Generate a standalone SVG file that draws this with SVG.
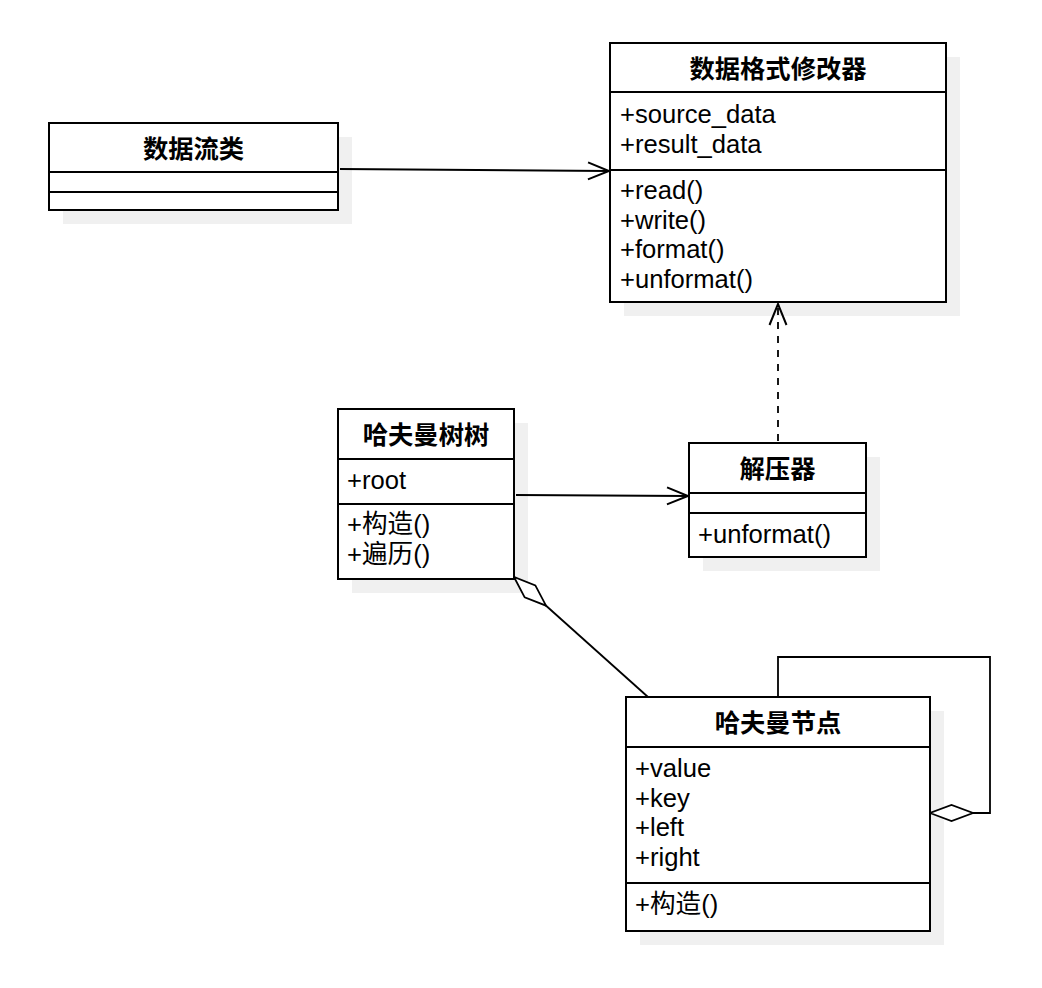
<svg xmlns="http://www.w3.org/2000/svg" width="1042" height="988" viewBox="0 0 1042 988">
<style>
.shadow{fill:#f0f0f0;stroke:none}
.box{fill:#ffffff;stroke:#000000;stroke-width:2}
.div{stroke:#000000;stroke-width:2;fill:none}
.title{font-family:"Liberation Sans","Noto Sans CJK SC",sans-serif;font-size:25.3px;font-weight:bold;fill:#000;text-anchor:middle}
.txt{font-family:"Liberation Sans","Noto Sans CJK SC",sans-serif;font-size:25.6px;fill:#000}
.edge{fill:none;stroke:#000;stroke-width:1.8}
.dash{stroke-dasharray:7 7}
</style>
<defs>
<marker id="open" viewBox="-24 -12 26 24" markerWidth="26" markerHeight="24" refX="0" refY="0" markerUnits="userSpaceOnUse" orient="auto">
<path d="M-21,-8.5 L0,0 L-21,8.5" fill="none" stroke="#000" stroke-width="2"/>
</marker>
<marker id="diamond" viewBox="-46 -11 48 22" markerWidth="48" markerHeight="22" refX="0" refY="0" markerUnits="userSpaceOnUse" orient="auto">
<path d="M0,0 L-21.5,-8 L-43,0 L-21.5,8 Z" fill="#fff" stroke="#000" stroke-width="1.8"/>
</marker>
</defs>

<g id="shadows">
<rect class="shadow" x="63" y="137" width="289" height="87"/>
<rect class="shadow" x="624" y="57" width="336" height="259"/>
<rect class="shadow" x="352" y="423" width="176" height="170"/>
<rect class="shadow" x="703" y="457" width="177" height="114"/>
<rect class="shadow" x="640" y="711" width="304" height="234"/>
</g>

<g id="connectors">
<path class="edge" d="M340,169 L609,171" marker-end="url(#open)"/>
<path class="edge" d="M516,495 L688,496" marker-end="url(#open)"/>
<path class="edge dash" d="M778,441 L778,304" marker-end="url(#open)"/>
<path class="edge" d="M648,697 L514,577" marker-end="url(#diamond)"/>
<path class="edge" d="M778,697 V657 H990 V813 H930" marker-end="url(#diamond)"/>
</g>

<g id="node-datastream">
<rect class="box" x="49" y="123" width="289" height="87"/>
<line class="div" x1="49" y1="172" x2="338" y2="172"/>
<line class="div" x1="49" y1="192" x2="338" y2="192"/>
<text class="title" x="193.5" y="158">数据流类</text>
</g>

<g id="node-formatter">
<rect class="box" x="610" y="43" width="336" height="259"/>
<line class="div" x1="610" y1="92" x2="946" y2="92"/>
<line class="div" x1="610" y1="170" x2="946" y2="170"/>
<text class="title" x="778" y="78">数据格式修改器</text>
<text class="txt" x="620" y="123">+source_data</text>
<text class="txt" x="620" y="153">+result_data</text>
<text class="txt" x="620" y="199">+read()</text>
<text class="txt" x="620" y="229">+write()</text>
<text class="txt" x="620" y="258">+format()</text>
<text class="txt" x="620" y="288">+unformat()</text>
</g>

<g id="node-hufftree">
<rect class="box" x="338" y="409" width="176" height="170"/>
<line class="div" x1="338" y1="459" x2="514" y2="459"/>
<line class="div" x1="338" y1="504" x2="514" y2="504"/>
<text class="title" x="426" y="444">哈夫曼树树</text>
<text class="txt" x="347" y="489">+root</text>
<text class="txt" x="347" y="533">+构造()</text>
<text class="txt" x="347" y="563">+遍历()</text>
</g>

<g id="node-decompressor">
<rect class="box" x="689" y="443" width="177" height="114"/>
<line class="div" x1="689" y1="493" x2="866" y2="493"/>
<line class="div" x1="689" y1="513" x2="866" y2="513"/>
<text class="title" x="777.5" y="478">解压器</text>
<text class="txt" x="698" y="543">+unformat()</text>
</g>

<g id="node-huffnode">
<rect class="box" x="626" y="697" width="304" height="234"/>
<line class="div" x1="626" y1="747" x2="930" y2="747"/>
<line class="div" x1="626" y1="883" x2="930" y2="883"/>
<text class="title" x="778" y="732">哈夫曼节点</text>
<text class="txt" x="635" y="777">+value</text>
<text class="txt" x="635" y="807">+key</text>
<text class="txt" x="635" y="836">+left</text>
<text class="txt" x="635" y="866">+right</text>
<text class="txt" x="635" y="913">+构造()</text>
</g>
</svg>
